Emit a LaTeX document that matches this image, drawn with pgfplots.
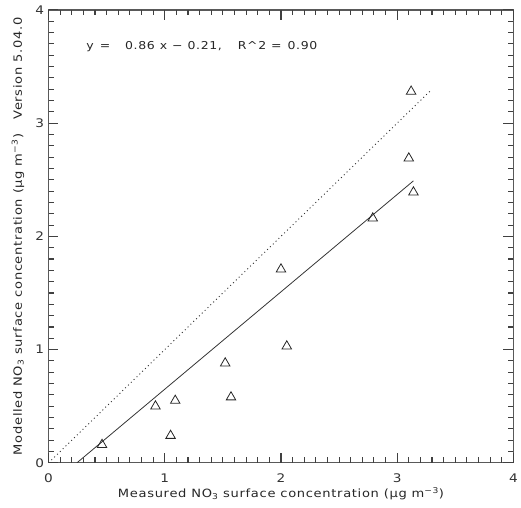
\documentclass[border=0pt]{standalone}
\usepackage{fontspec}
\setmainfont{DejaVu Sans}
\newfontfamily\wide{DejaVu Sans}[FakeStretch=1.15, LetterSpace=6]
\usepackage{pgfplots}
\pgfplotsset{compat=1.18}
\begin{document}
\begin{tikzpicture}
\begin{axis}[
 at={(0,0)}, anchor=south west,
 scale only axis, width=469bp, height=457bp,
 xmin=0, xmax=4, ymin=0, ymax=4,
 xtick={0,1,2,3,4}, ytick={0,1,2,3,4},
 tick style={draw=none},
 axis line style={black!65, line width=1.2bp},
 /pgf/number format/assume math mode=true,
 every tick label/.append style={font=\wide\fontsize{12}{14}\selectfont, text=black!80},
 xticklabel style={anchor=center, yshift=-15bp},
 yticklabel style={anchor=center, xshift=-9bp},
 xlabel={Measured NO\textsubscript{3} surface concentration (µg m\textsuperscript{−3})},
 ylabel={Modelled NO\textsubscript{3} surface concentration (µg m\textsuperscript{−3})\ \ \ Version 5.04.0},
 label style={font=\wide\fontsize{11.5}{13}\selectfont, text=black!85},
 xlabel style={at={(axis description cs:0.5,-0.0766)}, anchor=base},
 ylabel style={at={(axis description cs:-0.066,0.5)}, anchor=center},
]
\addplot[only marks, mark=triangle, mark size=5.5bp, mark options={line width=0.8bp, black!85}] coordinates {
 (0.46,0.16) (0.92,0.50) (1.09,0.55) (1.05,0.24) (1.52,0.88) (1.57,0.58)
 (2.00,1.71) (2.05,1.03) (2.79,2.16) (3.12,3.28) (3.10,2.69) (3.14,2.39)
};
\addplot[no marks, line width=0.8bp, black!80] coordinates {(0.244,0) (3.14,2.4904)};
\addplot[no marks, line width=0.9bp, black!80, dash pattern=on 1bp off 3bp] coordinates {(0,0) (3.28,3.28)};
\node[anchor=west, font=\wide\fontsize{11}{13}\selectfont, text=black!85, inner sep=0pt] at (axis cs:0.324,3.676) {y\hspace{6bp}=\hspace{15bp}0.86\hspace{5bp}x\hspace{5bp}−\hspace{5bp}0.21,\hspace{16bp}R\textasciicircum2\hspace{5bp}=\hspace{6bp}0.90};
\end{axis}
\foreach \i in {0,...,40}{
  \pgfmathtruncatemacro\m{mod(\i,10)}
  \ifnum\m=0 \def\L{10bp}\else\def\L{5.5bp}\fi
  \draw[black!75, line width=1.1bp] (\i*11.725bp,0bp) -- ++(0bp,\L);
  \draw[black!75, line width=1.1bp] (\i*11.725bp,457bp) -- ++(0bp,-\L);
  \draw[black!75, line width=1.1bp] (0bp,\i*11.425bp) -- ++(\L,0bp);
  \draw[black!75, line width=1.1bp] (469bp,\i*11.425bp) -- ++(-\L,0bp);
}
\path (-49bp,-45bp) rectangle (472bp,467bp);
\end{tikzpicture}
\end{document}
